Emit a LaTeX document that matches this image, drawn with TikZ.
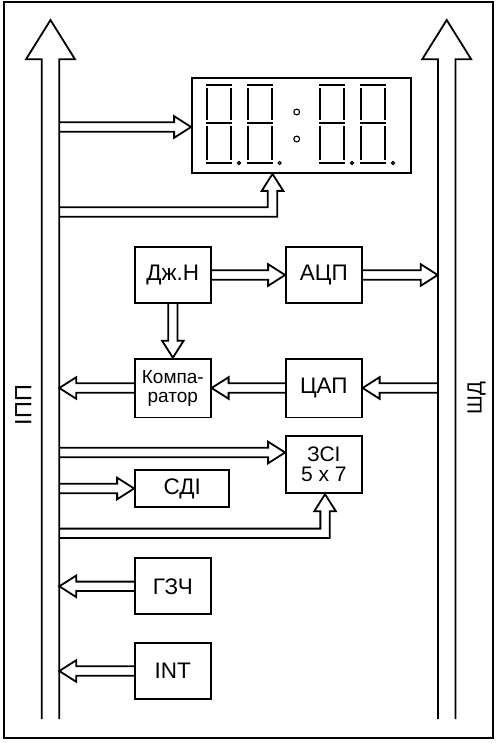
\documentclass[tikz,border=0pt]{standalone}
\usepackage{fontspec}
\setmainfont{Liberation Sans}
\usetikzlibrary{calc}
\newcommand{\hollowarrow}[2]{%
\draw ($(#1)!4.7pt!90:(#2)$) -- ($(#2)!17pt!(#1)!4.7pt!90:(#2)$)
 -- ($(#2)!17pt!(#1)!10.8pt!90:(#2)$) -- (#2)
 -- ($(#2)!17pt!(#1)!10.8pt!-90:(#2)$) -- ($(#2)!17pt!(#1)!4.7pt!-90:(#2)$)
 -- ($(#1)!4.7pt!-90:(#2)$);}
\newcommand{\bentarrow}[2]{%
\draw ($(#1)+(0,4.7)$) -| ($(#2)+(4.7,17)$) -- ++(6.1,0) -- (#2)
 -- ++(-10.8,17) -- ++(6.1,0) |- ($(#1)+(0,-4.7)$);}

\begin{document}
\begin{tikzpicture}[x=1pt,y=-1pt,line width=1.8pt,
  blk/.style={shape=rectangle,draw,inner sep=0pt,minimum width=75.7pt,minimum height=56.5pt,
    font=\fontsize{22.5}{22.5}\selectfont},
  seg/.style={line width=2pt},
  dot/.style={line width=1.1pt}]
\useasboundingbox (0,0) rectangle (497,743);
\draw (4,2) rectangle (492.7,737.7);
\foreach \bx in {50.5,446.7}
  \draw (\bx-8.8,719) -- (\bx-8.8,59.3) -- (\bx-24.5,59.3) -- (\bx,20)
    -- (\bx+24.5,59.3) -- (\bx+8.8,59.3) -- (\bx+8.8,719);
\node[rotate=90,font=\fontsize{23.5}{23.5}\selectfont] (IPP) at (23.3,405) {ІПП};
\node[rotate=90,font=\fontsize{20.5}{20.5}\selectfont] (SHD) at (476.5,398.3) {ШД};

\node[shape=rectangle,draw,minimum width=218.7pt,minimum height=95pt] (DSP) at (301.35,125.5) {};
\foreach \dx in {206,246.7,319,360}{
  \foreach \sy in {85,123.3,163.3}
    \draw[seg] (\dx,\sy) -- ++(26,0);
  \foreach \sx in {0.8,25.2}{
    \draw[seg] (\dx+\sx,88) -- (\dx+\sx,120);
    \draw[seg] (\dx+\sx,126.5) -- (\dx+\sx,160);
  }
  \draw[dot] (\dx+33,163) circle (1.5pt);
}
\draw[dot] (296.7,112) circle (2.9pt) (296.7,139) circle (2.9pt);

\node[blk] (DZH) at (172.85,275) {Дж.Н};
\node[blk] (ADC) at (323.85,275) {АЦП};
\node[blk,minimum height=58.8pt,align=center,font=\fontsize{19}{19}\selectfont] (CMP) at (172.85,388) {Компа-\\ратор};
\node[blk,minimum height=58.8pt] (DAC) at (323.85,388) {ЦАП};
\node[blk,minimum height=57.3pt,align=center,font=\fontsize{21}{20}\selectfont] (ZSI) at (323.85,464.7) {ЗСІ\\5 x 7};
\node[blk,minimum width=94.3pt,minimum height=37pt] (SDI) at (182.15,488.5) {СДІ};
\node[blk,minimum height=56pt] (GZC) at (172.85,586.3) {ГЗЧ};
\node[blk,minimum height=56.6pt] (INT) at (172.85,671) {INT};

\coordinate (L1) at (59.3,127);
\coordinate (L2) at (59.3,212);
\coordinate (L3) at (59.3,388);
\coordinate (L4) at (59.3,452.5);
\coordinate (L5) at (59.3,488.5);
\coordinate (L6) at (59.3,533.3);
\coordinate (L7) at (59.3,586.3);
\coordinate (L8) at (59.3,671);
\coordinate (R1) at (437.7,275);
\coordinate (R2) at (437.7,388);
\coordinate (T1) at (L1 -| DSP.west);
\coordinate (T2) at ([xshift=-28.85pt]DSP.south);
\coordinate (T4) at (L4 -| ZSI.west);
\coordinate (T6) at ([xshift=1.2pt]ZSI.south);

\hollowarrow{L1}{T1}
\bentarrow{L2}{T2}
\hollowarrow{DZH.east}{ADC.west}
\hollowarrow{ADC.east}{R1}
\hollowarrow{DZH.south}{CMP.north}
\hollowarrow{R2}{DAC.east}
\hollowarrow{DAC.west}{CMP.east}
\hollowarrow{CMP.west}{L3}
\hollowarrow{L4}{T4}
\hollowarrow{L5}{SDI.west}
\bentarrow{L6}{T6}
\hollowarrow{GZC.west}{L7}
\hollowarrow{INT.west}{L8}
\end{tikzpicture}
\end{document}
